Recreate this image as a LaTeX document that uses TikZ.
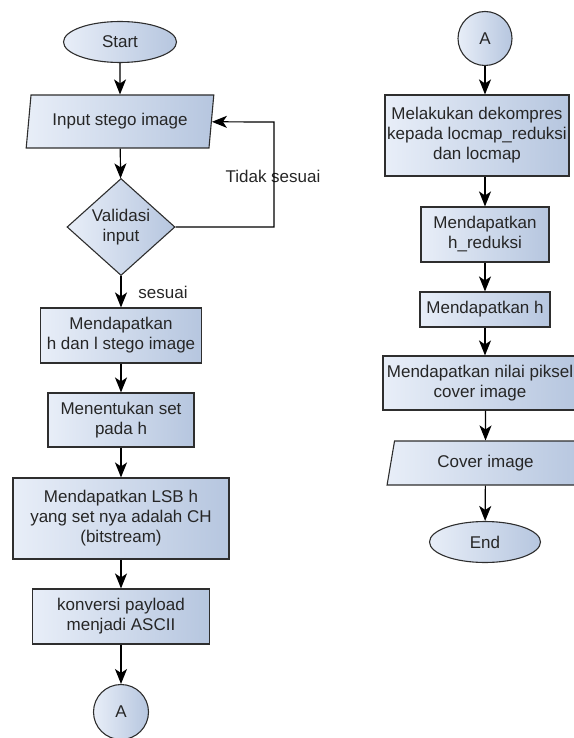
\documentclass[tikz,border=0pt]{standalone}
\usepackage{fontspec}
\setmainfont{Liberation Sans}
\usetikzlibrary{shapes.geometric,arrows.meta}
\definecolor{lite}{HTML}{E8EEF8}
\definecolor{dark}{HTML}{B6C6DF}
\definecolor{edge}{HTML}{2E2E2E}
\definecolor{txt}{HTML}{262626}
\begin{document}
\begin{tikzpicture}[x=1pt,y=-1pt,
  base/.style={draw=edge, line width=1.1pt, left color=lite, right color=dark,
    text=txt, align=center, inner sep=0pt, font=\fontsize{17}{20}\selectfont},
  proc/.style={base, rectangle},
  term/.style={base, ellipse},
  conn/.style={base, circle},
  dec/.style={base, diamond},
  io/.style={base, trapezium, trapezium stretches=true},
  lbl/.style={text=txt, inner sep=0pt, font=\fontsize{17}{20}\selectfont},
  arr/.style={draw=black, line width=1.2pt, -{Stealth[length=15pt,width=12pt,inset=4pt]}},
]
\useasboundingbox (0,0) rectangle (573,738);

% left column
\node[term, minimum width=113pt, minimum height=41pt] (start) at (120,42) {Start};
\node[io, trapezium left angle=77, trapezium right angle=103,
      minimum width=188pt, minimum height=53pt] (input) at (120,121.5) {Input stego image};
\node[dec, minimum width=108pt, minimum height=97pt] (valid) at (121,227) {Validasi\\input};
\node[proc, minimum width=161pt, minimum height=55pt] (b1) at (121,335.5) {Mendapatkan\\h dan l stego image};
\node[proc, minimum width=146pt, minimum height=54pt] (b2) at (121,420) {Menentukan set\\pada h};
\node[proc, minimum width=216pt, minimum height=81pt] (b3) at (121,518.5) {Mendapatkan LSB h\\yang set nya adalah CH\\(bitstream)};
\node[proc, minimum width=177pt, minimum height=55pt] (b4) at (121,616.5) {konversi payload\\menjadi ASCII};
\node[conn, minimum size=55pt] (aL) at (121,712) {A};

\coordinate (lp) at (274,122);
\node[lbl] (tidak) at (273,176) {Tidak sesuai};
\node[lbl] (sesuai) at (163,292) {sesuai};

\draw[arr] (start) -- (input);
\draw[arr] (input) -- (valid);
\draw[arr] (valid) -- (b1);
\draw[arr] (b1) -- (b2);
\draw[arr] (b2) -- (b3);
\draw[arr] (b3) -- (b4);
\draw[arr] (b4) -- (aL);
\draw[arr] (valid.east) -| (lp) -- (input);

% right column
\node[conn, minimum size=54pt] (aR) at (485,38.5) {A};
\node[proc, minimum width=184pt, minimum height=81pt] (r1) at (477,135.5) {Melakukan dekompres\\kepada locmap\_reduksi\\dan locmap};
\node[proc, minimum width=128pt, minimum height=55pt] (r2) at (485,234.5) {Mendapatkan\\h\_reduksi};
\node[proc, minimum width=130pt, minimum height=35pt] (r3) at (485,309.5) {Mendapatkan h};
\node[proc, minimum width=194pt, minimum height=54pt] (r4) at (480,383) {Mendapatkan nilai piksel\\cover image};
\node[io, trapezium left angle=76, trapezium right angle=104,
      minimum width=197pt, minimum height=44pt] (r5) at (485.5,463) {Cover image};
\node[term, minimum width=111pt, minimum height=41pt] (end) at (485,542) {End};

\draw[arr] (aR) -- (aR |- r1.north);
\draw[arr] (r1.south -| r2) -- (r2);
\draw[arr] (r2) -- (r3);
\draw[arr] (r3) -- (r3 |- r4.north);
\draw[arr] (r4.south -| r5) -- (r5);
\draw[arr] (r5) -- (end);
\end{tikzpicture}
\end{document}
